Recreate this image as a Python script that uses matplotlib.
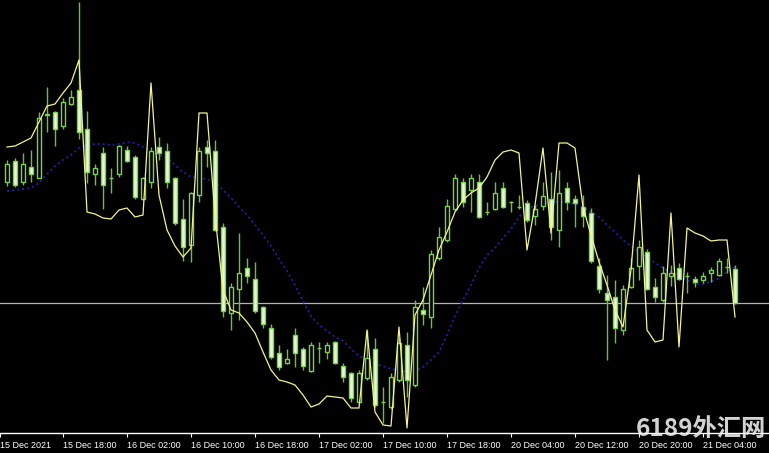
import matplotlib
matplotlib.use("Agg")
import matplotlib.pyplot as plt
import numpy as np

# ---- data (price in points above the time axis), hourly candles ----
opens = [251, 272, 251, 266, 255, 318, 321, 307, 329, 343,
         304, 259, 280, 255, 259, 283, 276, 234, 251, 286,
         282, 255, 214, 188, 238, 286, 282, 206, 120, 144,
         165, 154, 126, 105, 80, 70, 98, 84, 62, 85,
         81, 91, 67, 60, 31, 55, 84, 31, 26, 53,
         88, 48, 123, 116, 175, 193, 224, 251, 243, 251,
         221, 224, 245, 231, 226, 230, 217, 227, 234, 203,
         245, 234, 226, 220, 167, 140, 136, 103, 146, 167,
         181, 146, 133, 157, 165, 157, 154, 153, 160, 158,
         166, 164]
highs = [273, 275, 280, 283, 321, 346, 322, 335, 343, 431,
         322, 269, 286, 265, 288, 287, 278, 256, 286, 296,
         290, 256, 234, 241, 286, 293, 293, 210, 150, 200,
         175, 171, 127, 109, 88, 84, 105, 86, 91, 91,
         91, 92, 70, 61, 63, 103, 95, 46, 60, 95,
         101, 133, 146, 183, 206, 234, 259, 255, 259, 259,
         231, 251, 251, 232, 238, 233, 228, 251, 261, 263,
         251, 238, 238, 225, 175, 158, 153, 148, 175, 193,
         184, 155, 167, 168, 170, 161, 157, 161, 166, 175,
         175, 168]
lows = [247, 246, 248, 251, 255, 301, 287, 304, 328, 294,
        250, 248, 224, 240, 256, 271, 234, 233, 245, 273,
        245, 208, 172, 171, 231, 266, 202, 116, 103, 113,
        150, 120, 105, 74, 63, 69, 66, 63, 61, 70,
        74, 69, 51, 31, 30, 53, 26, 10, 24, 51,
        36, 46, 108, 105, 173, 191, 222, 226, 221, 215,
        218, 223, 225, 221, 224, 211, 208, 223, 193, 186,
        223, 206, 206, 170, 140, 73, 90, 98, 145, 153,
        143, 131, 131, 147, 153, 140, 146, 150, 151, 157,
        160, 129]
closes = [269, 248, 269, 259, 315, 319, 304, 331, 336, 301,
          261, 265, 248, 255, 287, 272, 236, 255, 282, 280,
          251, 210, 186, 240, 282, 280, 203, 122, 146, 160,
          157, 122, 109, 76, 66, 74, 80, 67, 88, 85,
          88, 70, 56, 35, 60, 75, 28, 31, 56, 90,
          53, 126, 119, 179, 196, 227, 255, 231, 255, 216,
          221, 240, 226, 231, 226, 213, 224, 237, 206, 240,
          231, 230, 217, 172, 144, 133, 105, 144, 165, 186,
          144, 136, 160, 160, 154, 157, 151, 157, 163, 172,
          166, 130]

# yellow indicator line
band = [286, 287, 291, 295, 311, 327, 329, 340, 350, 373,
        221, 219, 215, 214, 223, 225, 216, 218, 350, 238,
        203, 187, 176, 185, 320, 320, 218, 143, 123, 120,
        111, 100, 81, 63, 53, 51, 48, 38, 26, 29,
        37, 36, 35, 25, 25, 103, 21, 8, 7, 106,
        5, 118, 133, 158, 183, 201, 221, 233, 240, 245,
        256, 273, 281, 283, 280, 183, 228, 285, 200, 290,
        290, 285, 226, 198, 171, 148, 123, 106, 163, 258,
        103, 91, 93, 220, 86, 205, 200, 197, 192, 193,
        193, 116]

# blue dotted moving average
ma = [242, 243, 244, 245, 250, 259, 267, 273, 278, 285,
      288, 289, 289, 288, 289, 291, 290, 286, 282, 278,
      275, 268, 261, 256, 255, 254, 251, 243, 235, 226,
      218, 208, 198, 187, 174, 162, 148, 132, 117, 108,
      102, 96, 92, 84, 77, 73, 69, 67, 64, 63,
      61, 62, 66, 73, 81, 98, 117, 133, 148, 165,
      178, 185, 195, 204, 216, 225, 227, 229, 231, 231,
      230, 229, 226, 221, 216, 208, 201, 193, 187, 181,
      176, 170, 165, 161, 157, 153, 149, 149, 151, 155,
      161, 166]

hline_level = 130

tick_index = [-0.875, 7, 15, 23, 31, 39, 47, 55, 63, 71, 79, 87]
tick_labels = ["15 Dec 2021", "15 Dec 18:00", "16 Dec 02:00", "16 Dec 10:00",
               "16 Dec 18:00", "17 Dec 02:00", "17 Dec 10:00", "17 Dec 18:00",
               "20 Dec 04:00", "20 Dec 12:00", "20 Dec 20:00", "21 Dec 04:00"]

watermark = "6189外汇网"

# ---- drawing ----
W, H = 769, 453
fig = plt.figure(figsize=(W / 100, H / 100), dpi=100)
fig.patch.set_facecolor("black")
ax = fig.add_axes([0, 20 / H, 1, 433 / H])
ax.set_facecolor("black")

o = np.array(opens, float)
h = np.array(highs, float)
l = np.array(lows, float)
c = np.array(closes, float)
x = np.arange(len(o))
bull = c >= o

edge_col = "#74d64a"
wick_col = "#5cc83c"
ax.vlines(x, l, h, color=wick_col, linewidth=1.0, zorder=3)
faces = np.where(bull, "black", "#e4fad2")
ax.bar(x, np.abs(c - o), bottom=np.minimum(o, c), width=0.55,
       color=list(faces), edgecolor=edge_col, linewidth=1.0, zorder=4)

ax.plot(x, ma, color="#1f1f9c", linestyle=(0, (1.2, 1.6)), linewidth=1.3, zorder=2)
ax.plot(x, band, color="#f4f48c", linewidth=0.9, zorder=5)
ax.axhline(hline_level, color="#b4b4b4", linewidth=0.9, zorder=1)

ax.set_xlim(-0.875, 95.25)
ax.set_ylim(0, 433)

for s in ["top", "left", "right"]:
    ax.spines[s].set_visible(False)
ax.spines["bottom"].set_color("white")
ax.spines["bottom"].set_linewidth(1.0)
ax.set_yticks([])
ax.set_xticks(tick_index)
ax.set_xticklabels(tick_labels, fontsize=6.5, family="Liberation Sans", color="white")
for lbl in ax.get_xticklabels():
    lbl.set_horizontalalignment("left")
ax.tick_params(axis="x", direction="out", length=3, width=0.8, colors="white", pad=2.5)

fig.text(636 / W, 1 - 429 / H, watermark, fontsize=17.5, fontweight="bold",
         family=["Noto Sans CJK SC", "DejaVu Sans"], color="#f0f0f0", alpha=0.88,
         ha="left", va="center", zorder=10)

fig.savefig("out.png", dpi=100, facecolor="black")
